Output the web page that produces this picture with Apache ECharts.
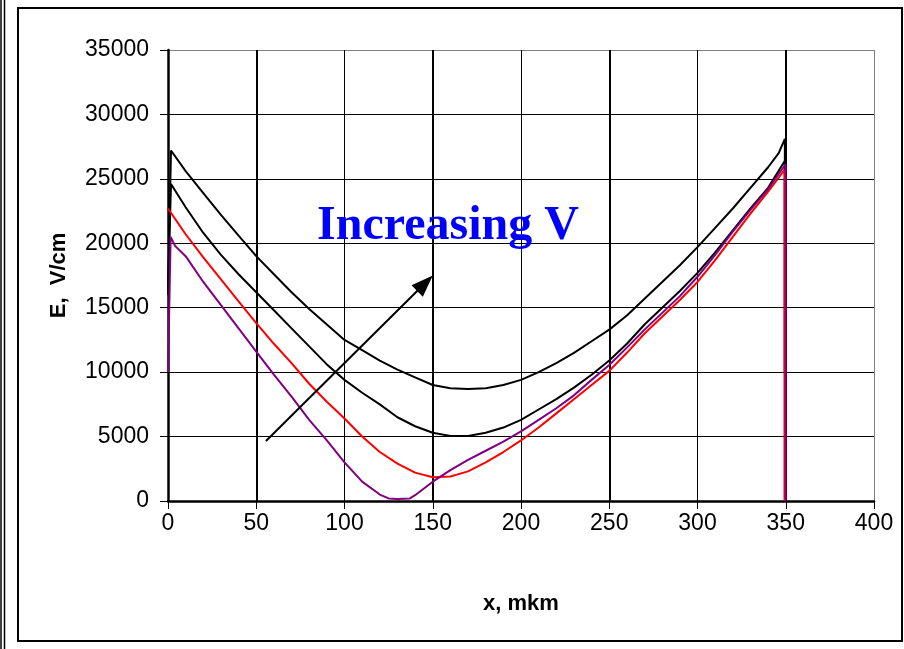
<!DOCTYPE html>
<html>
<head>
<meta charset="utf-8">
<style>
html,body{margin:0;padding:0;background:#fff;}
#chart{width:904px;height:649px;}
</style>
<script src="https://cdn.jsdelivr.net/npm/echarts@6/dist/echarts.min.js"></script>
</head>
<body>
<div id="chart"></div>
<script>
// ---- data ----
const xTicks = [0, 50, 100, 150, 200, 250, 300, 350, 400];
const yTicks = [0, 5000, 10000, 15000, 20000, 25000, 30000, 35000];

// highest voltage (black, top)
const curveV4 = [[0,16000],[1.7,27200],[10,25600],[20,23900],[30,22200],[40,20600],[50,19000],[60,17600],[70,16200],[80,14900],[90,13700],[100,12500],[110,11700],[120,10900],[130,10200],[140,9600],[150,9000],[160,8750],[170,8700],[180,8750],[190,9000],[200,9400],[210,10000],[220,10700],[230,11500],[240,12400],[250,13300],[260,14400],[270,15700],[280,17000],[290,18300],[300,19700],[310,21200],[320,22700],[330,24300],[340,25900],[346,27000],[349.5,28100],[349.5,10000]];
// second (black)
const curveV3 = [[0,16500],[1.7,24600],[10,22800],[20,20800],[30,19100],[40,17600],[50,16200],[60,14800],[70,13400],[80,12000],[90,10600],[100,9400],[110,8400],[120,7500],[130,6500],[140,5800],[150,5300],[160,5050],[170,5050],[180,5300],[190,5700],[200,6300],[210,7100],[220,7900],[230,8800],[240,9800],[250,10900],[260,12200],[270,13700],[280,15000],[290,16300],[300,17700],[310,19300],[320,21000],[330,22700],[340,24300],[349.5,26400],[349.5,10000]];
// red
const curveV2 = [[0,22700],[10,20700],[20,18900],[30,17200],[40,15500],[50,13800],[60,12200],[70,10700],[80,9100],[90,7700],[100,6400],[110,5000],[120,3800],[130,2900],[140,2200],[150,1850],[160,1900],[170,2300],[180,3000],[190,3800],[200,4700],[210,5700],[220,6800],[230,7900],[240,9000],[250,10100],[260,11500],[270,13000],[280,14300],[290,15600],[300,17000],[310,18700],[320,20500],[330,22300],[340,24000],[349.3,25700],[349.3,0]];
// purple (lowest voltage)
const curveV1 = [[0,10000],[1.5,20500],[4,19800],[10,19000],[20,17000],[30,15200],[40,13400],[50,11600],[60,9800],[70,8100],[80,6300],[90,4700],[100,3000],[110,1500],[120,500],[125,200],[130,150],[137,200],[140,450],[150,1500],[160,2400],[170,3200],[180,3900],[190,4600],[200,5400],[210,6300],[220,7200],[230,8200],[240,9400],[250,10550],[260,11900],[270,13300],[280,14600],[290,15900],[300,17400],[310,19100],[320,20900],[330,22600],[340,24200],[350,26150],[350,0]];

const arrowFrom = [55.5, 4650];
const arrowTo = [145.6, 16900];
const noteText = 'Increasing V';
const notePos = [158.6, 21300];
const heavyGridX = [50, 150, 250, 350];

// ---- chart ----
const FONT = "'Liberation Sans', Arial, sans-serif";
const chart = echarts.init(document.getElementById('chart'), null, {renderer: 'canvas'});

const yLineColors = yTicks.map((v, i) => i === yTicks.length - 1 ? '#808080' : '#000000');
const xLineColors = xTicks.map((v, i) => i === xTicks.length - 1 ? '#808080' : '#000000');

function lineSeries(data, color, extra) {
  return Object.assign({
    type: 'line',
    data: data,
    showSymbol: false,
    symbol: 'none',
    smooth: false,
    lineStyle: {color: color, width: 2},
    itemStyle: {color: color},
    z: 3
  }, extra || {});
}

chart.setOption({
  animation: false,
  backgroundColor: '#ffffff',
  graphic: [
    {type: 'rect', shape: {x: 18, y: 8, width: 884, height: 633}, style: {fill: 'none', stroke: '#000', lineWidth: 2}, z: 0},
    {type: 'line', shape: {x1: 1, y1: 0, x2: 1, y2: 649}, style: {stroke: '#000', lineWidth: 1.5}},
    {type: 'line', shape: {x1: 4.5, y1: 0, x2: 4.5, y2: 649}, style: {stroke: '#000', lineWidth: 1.5}}
  ],
  grid: {left: 168, top: 50, right: 30, bottom: 148, containLabel: false},
  xAxis: {
    type: 'value', min: 0, max: 400, interval: 50,
    name: 'x, mkm', nameLocation: 'middle', nameGap: 92,
    nameTextStyle: {fontFamily: FONT, fontWeight: 'bold', fontSize: 22, color: '#000'},
    axisLine: {show: true, onZero: false, lineStyle: {color: '#000', width: 2.5}},
    axisTick: {show: true, inside: false, length: 8, lineStyle: {color: '#000', width: 1}},
    axisLabel: {fontFamily: FONT, fontSize: 23, color: '#000', margin: 11, formatter: v => String(v)},
    splitLine: {show: true, lineStyle: {color: xLineColors, width: 1}}
  },
  yAxis: {
    type: 'value', min: 0, max: 35000, interval: 5000,
    name: 'E,  V/cm', nameLocation: 'middle', nameGap: 98, nameRotate: 90,
    nameTextStyle: {fontFamily: FONT, fontWeight: 'bold', fontSize: 22, color: '#000'},
    axisLine: {show: true, onZero: false, lineStyle: {color: '#000', width: 2.5}},
    axisTick: {show: true, inside: false, length: 8, lineStyle: {color: '#000', width: 1}},
    axisLabel: {fontFamily: FONT, fontSize: 23, color: '#000', margin: 19, formatter: v => String(v)},
    splitLine: {show: true, lineStyle: {color: yLineColors, width: 1}}
  },
  series: [
    lineSeries(curveV4, '#000000', {
      markLine: {
        silent: true, symbol: ['none', 'none'], animation: false,
        label: {show: false},
        lineStyle: {color: '#000', width: 2, type: 'solid'},
        data: heavyGridX.map(v => ({xAxis: v})),
        z: 1
      }
    }),
    lineSeries(curveV3, '#000000'),
    lineSeries(curveV2, '#ff0000'),
    lineSeries(curveV1, '#800080', {
      markLine: {
        silent: true, symbol: ['none', 'triangle'], symbolSize: [16, 22], animation: false,
        label: {show: false},
        itemStyle: {color: '#000'},
        lineStyle: {color: '#000', width: 2, type: 'solid'},
        data: [[{coord: arrowFrom}, {coord: arrowTo}]]
      },
      markPoint: {
        silent: true, symbol: 'circle', symbolSize: 0, animation: false,
        data: [{coord: notePos}],
        label: {
          show: true, position: 'inside', formatter: noteText,
          fontFamily: "'Liberation Serif', 'Times New Roman', serif",
          fontWeight: 'bold', fontSize: 48, color: '#0000ff'
        }
      }
    })
  ]
});
</script>
</body>
</html>
